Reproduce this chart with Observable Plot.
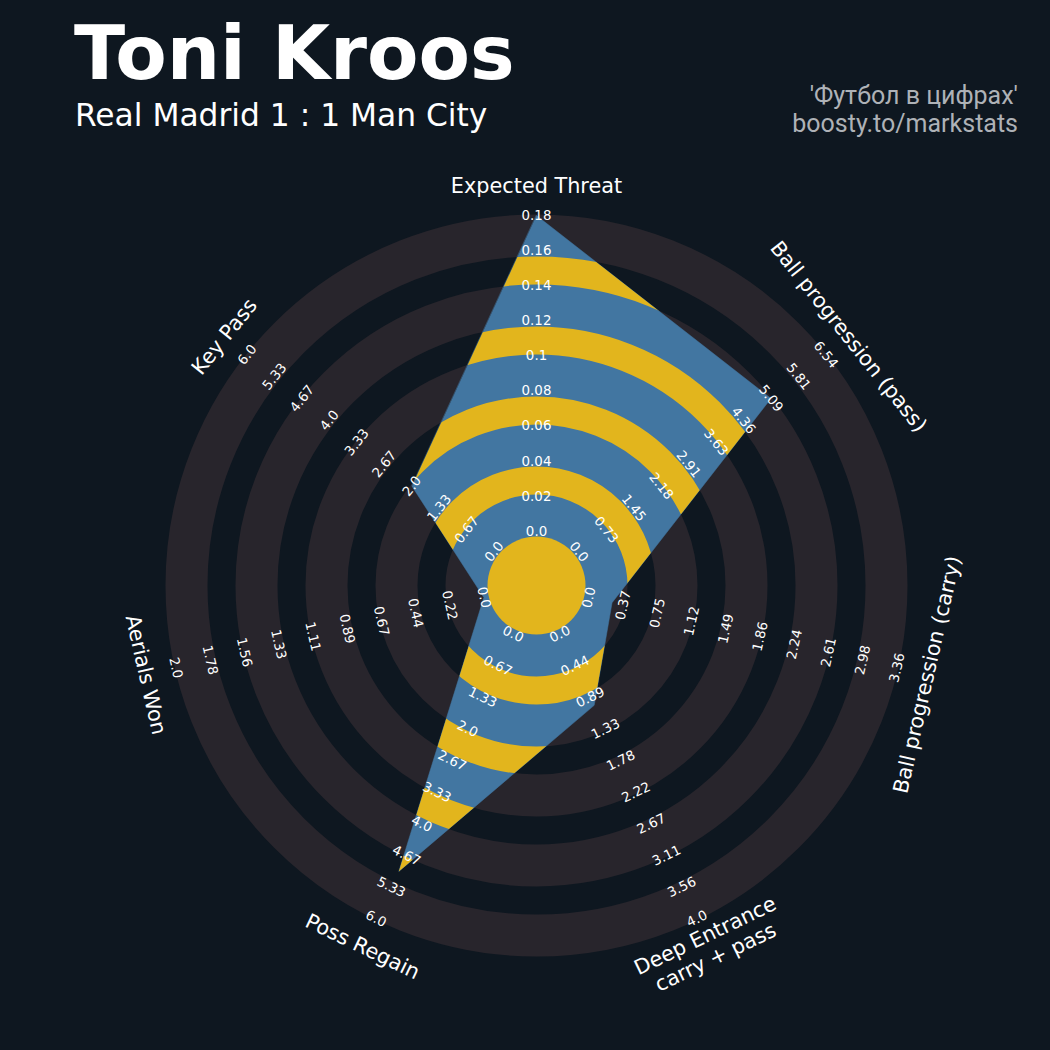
<!DOCTYPE html>
<html><head><meta charset="utf-8">
<script src="https://cdn.jsdelivr.net/npm/d3@7"></script>
<script src="https://cdn.jsdelivr.net/npm/@observablehq/plot@0.6"></script>
<style>
html,body{margin:0;padding:0;background:#0e1720;}
#wrap{width:1050px;height:1050px;position:relative;overflow:hidden;background:#0e1720;}
#header{position:relative;width:1050px;height:150px;}
.t{position:absolute;white-space:nowrap;line-height:1;}
#title{left:74px;top:16px;font-family:"DejaVu Sans";font-weight:bold;font-size:75px;color:#ffffff;}
#subtitle{left:75px;top:100px;font-family:"DejaVu Sans";font-size:31.3px;color:#ffffff;}
#credit1{right:32px;top:83px;font-family:Roboto;font-size:25px;color:#aeb2b7;}
#credit2{right:32px;top:111px;font-family:Roboto;font-size:25px;color:#aeb2b7;}
#chart{width:1050px;height:900px;}
</style></head>
<body>
<div id="wrap">
  <div id="header">
    <div class="t" id="title">Toni Kroos</div>
    <div class="t" id="subtitle">Real Madrid 1 : 1 Man City</div>
    <div class="t" id="credit1">'Футбол в цифрах'</div>
    <div class="t" id="credit2">boosty.to/markstats</div>
  </div>
  <div id="chart"></div>
</div>
<script>
// ---- data ----
const params = ["Expected Threat", "Ball progression (pass)", "Ball progression (carry)", "Deep Entrance\ncarry + pass", "Poss Regain", "Aerials Won", "Key Pass"];
const values = [0.18, 5.09, 0.25, 1.0, 5.0, 0.0, 2.0];
const minRange = [0, 0, 0, 0, 0, 0, 0];
const maxRange = [0.18, 6.54, 3.36, 4.0, 6.0, 2.0, 6.0];
const labelsExpectedThreat = ["0.0","0.02","0.04","0.06","0.08","0.1","0.12","0.14","0.16","0.18"];
const labelsPass = ["0.0","0.73","1.45","2.18","2.91","3.63","4.36","5.09","5.81","6.54"];
const labelsCarry = ["0.0","0.37","0.75","1.12","1.49","1.86","2.24","2.61","2.98","3.36"];
const labelsDeep = ["0.0","0.44","0.89","1.33","1.78","2.22","2.67","3.11","3.56","4.0"];
const labelsPossRegain = ["0.0","0.67","1.33","2.0","2.67","3.33","4.0","4.67","5.33","6.0"];
const labelsAerials = ["0.0","0.22","0.44","0.67","0.89","1.11","1.33","1.56","1.78","2.0"];
const labelsKeyPass = ["0.0","0.67","1.33","2.0","2.67","3.33","4.0","4.67","5.33","6.0"];
const rangeLabels = [labelsExpectedThreat, labelsPass, labelsCarry, labelsDeep, labelsPossRegain, labelsAerials, labelsKeyPass];

// ---- colours ----
const BG = "#0e1720", RING = "#28252c", BLUE = "#4276a1", YELLOW = "#e2b51d";

// ---- geometry (pixel-like units, centre at 0,0) ----
const R0 = 54, R1 = 370;        // value min -> R0, value max -> R1
const CENTER_R = 49;            // centre circle
const bandBlue = [70, 140, 210, 280, 350];   // mid radii of grey/blue bands (width 42)
const bandYellow = [105, 175, 245, 315];     // mid radii of yellow bands (width 28)
const n = params.length;
const theta = i => (90 - i * 360 / n) * Math.PI / 180;
const rad = (v, i) => R0 + (v - minRange[i]) / (maxRange[i] - minRange[i]) * (R1 - R0);
const rotFor = i => {
  let r = i * 360 / n;
  while (r > 90) r -= 180;
  while (r <= -90) r += 180;
  return r;
};

const vertices = values.map((v, i) => ({x: rad(v, i) * Math.cos(theta(i)), y: rad(v, i) * Math.sin(theta(i))}));

const tickData = [];
rangeLabels.forEach((labs, i) => {
  labs.forEach((lab, k) => {
    const rr = R0 + k * (R1 - R0) / (labs.length - 1);
    tickData.push({x: rr * Math.cos(theta(i)), y: rr * Math.sin(theta(i)), text: lab, rot: rotFor(i)});
  });
});
const paramData = params.map((p, i) => ({x: 400 * Math.cos(theta(i)), y: 400 * Math.sin(theta(i)), text: p, rot: rotFor(i)}));

const chart = Plot.plot({
  width: 1050, height: 900,
  marginTop: 0, marginRight: 0, marginBottom: 0, marginLeft: 0,
  style: "background:#0e1720;",
  x: {domain: [-536, 514], axis: null},
  y: {domain: [-465, 435], axis: null},
  r: {type: "identity"},
  marks: [
    Plot.dot(bandBlue, {x: () => 0, y: () => 0, r: d => d, fill: "none", stroke: RING, strokeWidth: 42}),
    Plot.line(vertices, {x: "x", y: "y", curve: "linear-closed", fill: BLUE, stroke: BLUE, strokeWidth: 0.5}),
    Plot.dot([CENTER_R], {x: () => 0, y: () => 0, r: d => d, fill: YELLOW, stroke: "none"}),
    Plot.dot(bandYellow, {x: () => 0, y: () => 0, r: d => d, fill: "none", stroke: YELLOW, strokeWidth: 28}),
    Plot.text(tickData, {x: "x", y: "y", text: "text", rotate: "rot", fill: "#ffffff", fontSize: 13.4, fontFamily: "DejaVu Sans"}),
    Plot.text(paramData, {x: "x", y: "y", text: "text", rotate: "rot", fill: "#ffffff", fontSize: 20.8, fontFamily: "DejaVu Sans", lineHeight: 1.15})
  ]
});

// clip the yellow rings to the radar polygon
(function () {
  const ns = "http://www.w3.org/2000/svg";
  const groups = Array.from(chart.children).filter(el => el.tagName.toLowerCase() === "g");
  const radarG = groups[1];
  if (!radarG) return;
  const radarPath = radarG.querySelector("path");
  if (!radarPath) return;
  const defs = document.createElementNS(ns, "defs");
  const cp = document.createElementNS(ns, "clipPath");
  cp.setAttribute("id", "radarClip");
  const p = document.createElementNS(ns, "path");
  p.setAttribute("d", radarPath.getAttribute("d"));
  const tr = [radarG.getAttribute("transform"), radarPath.getAttribute("transform")].filter(Boolean).join(" ");
  if (tr) p.setAttribute("transform", tr);
  cp.appendChild(p);
  defs.appendChild(cp);
  chart.insertBefore(defs, chart.firstChild);
  [groups[2], groups[3]].forEach(g => {
    if (!g) return;
    const w = document.createElementNS(ns, "g");
    w.setAttribute("clip-path", "url(#radarClip)");
    g.parentNode.insertBefore(w, g);
    w.appendChild(g);
  });
})();

document.getElementById("chart").appendChild(chart);
</script>
</body></html>
